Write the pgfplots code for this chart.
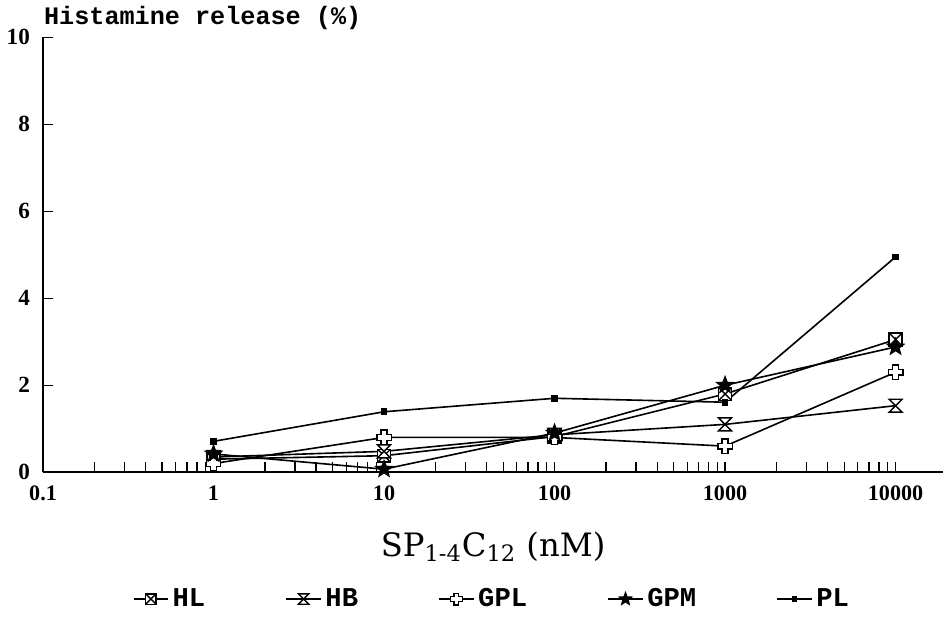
\documentclass[border=0pt]{standalone}
\usepackage{pgfplots}
\pgfplotsset{compat=1.18}
\usepackage{fontspec}
\setmainfont{Liberation Serif}
\newfontfamily\monob{Liberation Mono}
\newfontfamily\slab{DejaVu Serif}

% custom marks for the five series
\pgfdeclareplotmark{hlbox}{%
  \pgfpathrectangle{\pgfqpoint{-\pgfplotmarksize}{-\pgfplotmarksize}}{\pgfqpoint{2\pgfplotmarksize}{2\pgfplotmarksize}}%
  \pgfusepathqfillstroke
  \pgfpathmoveto{\pgfqpoint{-\pgfplotmarksize}{-\pgfplotmarksize}}\pgfpathlineto{\pgfqpoint{\pgfplotmarksize}{\pgfplotmarksize}}%
  \pgfpathmoveto{\pgfqpoint{-\pgfplotmarksize}{\pgfplotmarksize}}\pgfpathlineto{\pgfqpoint{\pgfplotmarksize}{-\pgfplotmarksize}}%
  \pgfusepathqstroke}
\pgfdeclareplotmark{hourglass}{%
  \pgfpathmoveto{\pgfqpoint{-\pgfplotmarksize}{\pgfplotmarksize}}%
  \pgfpathlineto{\pgfqpoint{\pgfplotmarksize}{\pgfplotmarksize}}%
  \pgfpathlineto{\pgfqpoint{-\pgfplotmarksize}{-\pgfplotmarksize}}%
  \pgfpathlineto{\pgfqpoint{\pgfplotmarksize}{-\pgfplotmarksize}}%
  \pgfpathclose\pgfusepathqfillstroke}
\pgfdeclareplotmark{opencross}{%
  \pgfpathmoveto{\pgfqpoint{-0.4\pgfplotmarksize}{\pgfplotmarksize}}%
  \pgfpathlineto{\pgfqpoint{0.4\pgfplotmarksize}{\pgfplotmarksize}}%
  \pgfpathlineto{\pgfqpoint{0.4\pgfplotmarksize}{0.4\pgfplotmarksize}}%
  \pgfpathlineto{\pgfqpoint{\pgfplotmarksize}{0.4\pgfplotmarksize}}%
  \pgfpathlineto{\pgfqpoint{\pgfplotmarksize}{-0.4\pgfplotmarksize}}%
  \pgfpathlineto{\pgfqpoint{0.4\pgfplotmarksize}{-0.4\pgfplotmarksize}}%
  \pgfpathlineto{\pgfqpoint{0.4\pgfplotmarksize}{-\pgfplotmarksize}}%
  \pgfpathlineto{\pgfqpoint{-0.4\pgfplotmarksize}{-\pgfplotmarksize}}%
  \pgfpathlineto{\pgfqpoint{-0.4\pgfplotmarksize}{-0.4\pgfplotmarksize}}%
  \pgfpathlineto{\pgfqpoint{-\pgfplotmarksize}{-0.4\pgfplotmarksize}}%
  \pgfpathlineto{\pgfqpoint{-\pgfplotmarksize}{0.4\pgfplotmarksize}}%
  \pgfpathlineto{\pgfqpoint{-0.4\pgfplotmarksize}{0.4\pgfplotmarksize}}%
  \pgfpathclose\pgfusepathqfillstroke}
\pgfdeclareplotmark{fstar}{%
  \pgfpathmoveto{\pgfqpointpolar{90}{\pgfplotmarksize}}%
  \pgfpathlineto{\pgfqpointpolar{126}{0.42\pgfplotmarksize}}%
  \pgfpathlineto{\pgfqpointpolar{162}{\pgfplotmarksize}}%
  \pgfpathlineto{\pgfqpointpolar{198}{0.42\pgfplotmarksize}}%
  \pgfpathlineto{\pgfqpointpolar{234}{\pgfplotmarksize}}%
  \pgfpathlineto{\pgfqpointpolar{270}{0.42\pgfplotmarksize}}%
  \pgfpathlineto{\pgfqpointpolar{306}{\pgfplotmarksize}}%
  \pgfpathlineto{\pgfqpointpolar{342}{0.42\pgfplotmarksize}}%
  \pgfpathlineto{\pgfqpointpolar{18}{\pgfplotmarksize}}%
  \pgfpathlineto{\pgfqpointpolar{54}{0.42\pgfplotmarksize}}%
  \pgfpathclose\pgfusepathqfillstroke}

\begin{document}
\begin{tikzpicture}
\begin{axis}[
  scale only axis,
  width=447pt, height=216pt,
  xmode=log,
  xmin=0.1, xmax=19000,
  ymin=0, ymax=10,
  axis lines=left,
  axis line style={-, line width=0.9pt},
  tick align=inside,
  tick style={black, line width=0.7pt},
  major tick length=5pt,
  minor tick length=5pt,
  xtick={0.1,1,10,100,1000,10000},
  xticklabels={0.1,1,10,100,1000,10000},
  ytick={0,2,4,6,8,10},
  /pgf/number format/assume math mode=true,
  ticklabel style={font=\bfseries\fontsize{11}{13}\selectfont},
  yticklabel style={font=\bfseries\fontsize{11.5}{13}\selectfont, xshift=-3pt},
  xticklabel style={yshift=-3pt},
  xlabel={SP\textsubscript{1-4}C\textsubscript{12} (nM)},
  xlabel style={font=\slab\fontsize{16}{19}\selectfont, at={(axis description cs:0.5,0)}, anchor=center, yshift=-37pt},
  ylabel={Histamine release (\%)},
  ylabel style={font=\monob\bfseries\fontsize{12.5}{14}\selectfont, rotate=-90, at={(axis description cs:0,1)}, anchor=south west, xshift=-3pt, yshift=0pt},
  legend columns=5,
  legend style={draw=none, at={(axis description cs:0.5,0)}, anchor=center, yshift=-63pt,
    font=\monob\bfseries\fontsize{13.5}{15}\selectfont,
    /tikz/every even column/.append style={column sep=38pt}},
  legend image post style={line width=0.6pt, /tikz/every mark/.append style={scale=0.8}},
  every axis plot/.append style={black, line width=0.8pt, mark options={solid, fill=white, line width=0.7pt}},
]
\addplot[mark=hlbox, mark size=3.2pt] coordinates {
  (1,0.30) (10,0.38) (100,0.82) (1000,1.80) (10000,3.05)};
\addlegendentry{HL}
\addplot[mark=hourglass, mark size=3.2pt] coordinates {
  (1,0.35) (10,0.48) (100,0.86) (1000,1.10) (10000,1.53)};
\addlegendentry{HB}
\addplot[mark=opencross, mark size=3.6pt] coordinates {
  (1,0.20) (10,0.80) (100,0.80) (1000,0.60) (10000,2.30)};
\addlegendentry{GPL}
\addplot[mark=fstar, mark size=4pt, mark options={fill=black}] coordinates {
  (1,0.42) (10,0.07) (100,0.90) (1000,2.00) (10000,2.88)};
\addlegendentry{GPM}
\addplot[mark=square*, mark size=1.3pt, mark options={fill=black}] coordinates {
  (1,0.71) (10,1.39) (100,1.70) (1000,1.61) (10000,4.95)};
\addlegendentry{PL}
\end{axis}
\end{tikzpicture}
\end{document}
